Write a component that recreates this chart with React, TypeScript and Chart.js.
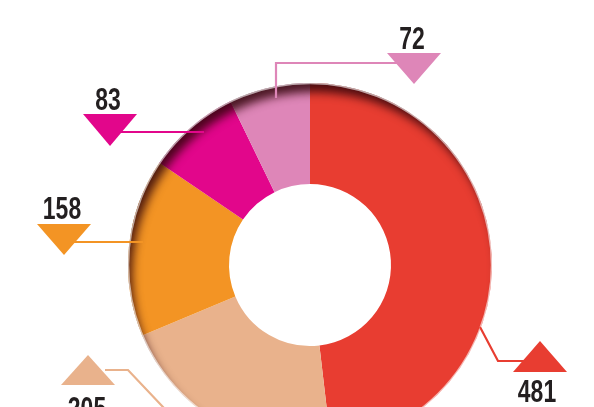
import React, { useEffect, useRef } from "react";
import { Chart, registerables } from "chart.js";

Chart.register(...registerables);

const categories = ["Segment A", "Segment B", "Segment C", "Segment D", "Segment E"];
const values = [481, 205, 158, 83, 72];
const colors = ["#E83D31", "#E9B28C", "#F39424", "#E2068B", "#DE86B8"];

// Callout layout, relative to the doughnut centre (px)
type Callout = {
  dir: "up" | "down";
  tx: number;
  baseY: number;
  apexY: number;
  textX: number;
  textY: number;
  line: [number, number][];
};
const callouts: Callout[] = [
  { dir: "up", tx: 230, baseY: 107, apexY: 76, textX: 227, textY: 137, line: [[170, 62], [188, 96], [218, 96]] },
  { dir: "up", tx: -222, baseY: 120, apexY: 90, textX: -223, textY: 154, line: [[-205, 105], [-182, 105], [-147, 142], [-120, 170]] },
  { dir: "down", tx: -246, baseY: -41, apexY: -10, textX: -248, textY: -46, line: [[-167, -23], [-238, -23]] },
  { dir: "down", tx: -200, baseY: -151, apexY: -119, textX: -202, textY: -155, line: [[-106, -133], [-192, -133]] },
  { dir: "down", tx: 104, baseY: -212, apexY: -181, textX: 102, textY: -216, line: [[-34, -167], [-34, -202], [92, -202]] },
];

const insetShadow = {
  id: "insetShadow",
  afterDatasetsDraw(chart: any) {
    const arc = chart.getDatasetMeta(0).data[0];
    if (!arc) return;
    const { x, y, outerRadius } = arc.getProps(["x", "y", "outerRadius"], true);
    const ctx = chart.ctx;
    ctx.save();
    ctx.beginPath();
    ctx.arc(x, y, outerRadius, 0, Math.PI * 2);
    ctx.clip();
    ctx.beginPath();
    ctx.rect(x - outerRadius - 200, y - outerRadius - 200, outerRadius * 2 + 400, outerRadius * 2 + 400);
    ctx.arc(x, y, outerRadius + 1, 0, Math.PI * 2, true);
    ctx.shadowColor = "rgba(50,5,10,0.85)";
    ctx.shadowBlur = 10;
    ctx.shadowOffsetX = 5;
    ctx.shadowOffsetY = 10;
    ctx.fillStyle = "#000";
    ctx.fill();
    ctx.restore();
    // thin light rim
    ctx.save();
    ctx.beginPath();
    ctx.arc(x, y, outerRadius - 0.5, 0, Math.PI * 2);
    ctx.strokeStyle = "rgba(255,255,255,0.6)";
    ctx.lineWidth = 1.5;
    ctx.stroke();
    ctx.restore();
  },
};

const calloutPlugin = {
  id: "callouts",
  afterDraw(chart: any) {
    const arc = chart.getDatasetMeta(0).data[0];
    if (!arc) return;
    const { x: cx, y: cy } = arc.getProps(["x", "y"], true);
    const ctx = chart.ctx;
    ctx.save();
    callouts.forEach((c, i) => {
      const col = colors[i];
      ctx.strokeStyle = col;
      ctx.lineWidth = 2.2;
      ctx.lineJoin = "miter";
      ctx.beginPath();
      c.line.forEach(([px, py], k) => {
        if (k === 0) ctx.moveTo(cx + px, cy + py);
        else ctx.lineTo(cx + px, cy + py);
      });
      ctx.stroke();
      ctx.fillStyle = col;
      ctx.beginPath();
      ctx.moveTo(cx + c.tx - 27, cy + c.baseY);
      ctx.lineTo(cx + c.tx + 27, cy + c.baseY);
      ctx.lineTo(cx + c.tx, cy + c.apexY);
      ctx.closePath();
      ctx.fill();
      ctx.save();
      ctx.translate(cx + c.textX, cy + c.textY);
      ctx.scale(0.74, 1);
      ctx.fillStyle = "#231F20";
      ctx.font = 'bold 31px "Liberation Sans", Arial, sans-serif';
      ctx.textAlign = "center";
      ctx.textBaseline = "alphabetic";
      ctx.fillText(String(values[i]), 0, 0);
      ctx.restore();
    });
    ctx.restore();
  },
};

export default function App() {
  const ref = useRef<HTMLCanvasElement | null>(null);
  useEffect(() => {
    if (!ref.current) return;
    const chart = new Chart(ref.current, {
      type: "doughnut",
      data: {
        labels: categories,
        datasets: [
          {
            data: values,
            backgroundColor: colors,
            borderWidth: 0,
            hoverOffset: 0,
          },
        ],
      },
      options: {
        responsive: false,
        animation: false,
        cutout: "44.5%",
        layout: { padding: { left: 128, right: 102, top: 83, bottom: 13 } },
        plugins: {
          legend: { display: false },
          tooltip: { enabled: false },
          title: { display: false },
        },
      },
      plugins: [insetShadow, calloutPlugin],
    });
    return () => chart.destroy();
  }, []);
  return (
    <div
      style={{
        position: "fixed",
        left: 0,
        top: 0,
        width: 594,
        height: 407,
        overflow: "hidden",
        background: "#fff",
      }}
    >
      <canvas ref={ref} width={594} height={460} style={{ display: "block" }} />
    </div>
  );
}
